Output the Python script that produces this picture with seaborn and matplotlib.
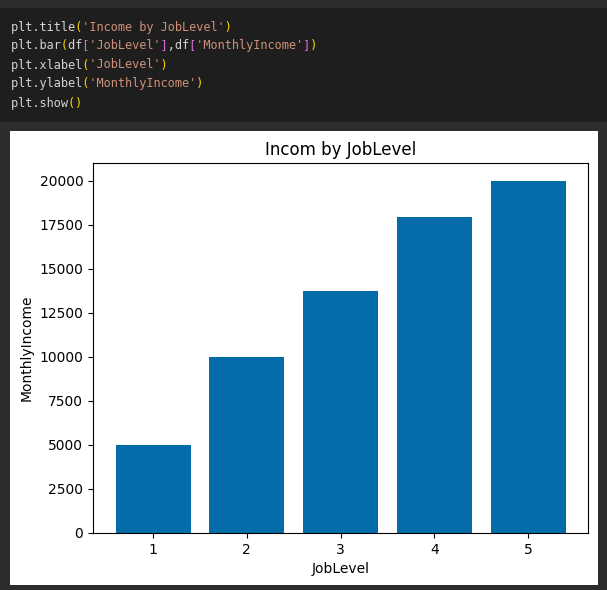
import matplotlib
matplotlib.use("Agg")
import matplotlib.pyplot as plt
from matplotlib.patches import Rectangle
import seaborn as sns
import pandas as pd

# ---- data ----
job_levels = [1, 2, 3, 4, 5]
monthly_income = [5000, 10000, 13750, 17950, 20000]
chart_title = "Incom by JobLevel"
x_label = "JobLevel"
y_label = "MonthlyIncome"

code_lines = [
    [("plt.title", "#d4d4d4"), ("(", "#ffd700"), ("'Income by JobLevel'", "#ce9178"), (")", "#ffd700")],
    [("plt.bar", "#d4d4d4"), ("(", "#ffd700"), ("df", "#d4d4d4"), ("[", "#da70d6"), ("'JobLevel'", "#ce9178"),
     ("]", "#da70d6"), (",df", "#d4d4d4"), ("[", "#da70d6"), ("'MonthlyIncome'", "#ce9178"), ("]", "#da70d6"),
     (")", "#ffd700")],
    [("plt.xlabel", "#d4d4d4"), ("(", "#ffd700"), ("'JobLevel'", "#ce9178"), (")", "#ffd700")],
    [("plt.ylabel", "#d4d4d4"), ("(", "#ffd700"), ("'MonthlyIncome'", "#ce9178"), (")", "#ffd700")],
    [("plt.show", "#d4d4d4"), ("()", "#ffd700")],
]

W, H = 607, 590
fig = plt.figure(figsize=(W / 100, H / 100), dpi=100)
fig.patch.set_facecolor("#2d2d2d")

def px_rect(x0, y0, x1, y1, color):
    fig.patches.append(Rectangle((x0 / W, 1 - y1 / H), (x1 - x0) / W, (y1 - y0) / H,
                                 transform=fig.transFigure, facecolor=color,
                                 edgecolor="none", zorder=-10))

# code cell background
px_rect(0, 8, W, 122, "#1e1e1e")
# white output panel
px_rect(10, 131, 598, 585, "#ffffff")

# code text: each colour drawn as a full-width line with other chars blanked
fs = 8.6
for i, segs in enumerate(code_lines):
    y = 27 + i * 19
    colors = {c for _, c in segs}
    for col in colors:
        s = "".join(t if c == col else " " * len(t) for t, c in segs)
        fig.text(11 / W, 1 - y / H, s, color=col, fontsize=fs,
                 family="DejaVu Sans Mono", va="center", ha="left")

# chart axes
left, right, top, bottom = 93, 588, 163, 533
ax = fig.add_axes([left / W, 1 - bottom / H, (right - left) / W, (bottom - top) / H])
ax.set_zorder(5)
df = pd.DataFrame({"JobLevel": job_levels, "MonthlyIncome": monthly_income})
sns.barplot(data=df, x="JobLevel", y="MonthlyIncome", color="#036ca9", saturation=1,
            width=0.8, errorbar=None, linewidth=0, ax=ax)
ax.set_xlim(-0.64, 4.64)
ax.set_ylim(0, 21000)
ax.set_yticks(range(0, 20001, 2500))
ax.set_title(chart_title, fontsize=12)
ax.set_xlabel(x_label, fontsize=10)
ax.set_ylabel(y_label, fontsize=10)
ax.tick_params(labelsize=10)
for sp in ax.spines.values():
    sp.set_visible(True)
    sp.set_color("black")
    sp.set_linewidth(0.8)

fig.savefig("out.png", dpi=100, facecolor=fig.get_facecolor())
